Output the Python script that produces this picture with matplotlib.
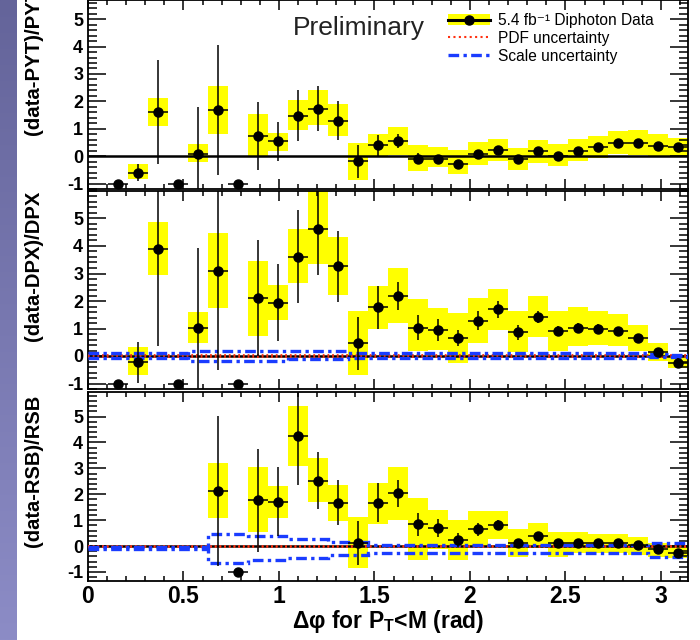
import numpy as np
import matplotlib
matplotlib.use('Agg')
import matplotlib.pyplot as plt
from matplotlib.lines import Line2D
from matplotlib.patches import Rectangle
from matplotlib.ticker import MultipleLocator
from matplotlib.colors import LinearSegmentedColormap

plt.rcParams['font.family'] = ['Liberation Sans', 'DejaVu Sans']
plt.rcParams['axes.unicode_minus'] = False

nan = np.nan

# 30 bins in delta phi, 0 .. pi
edges = np.linspace(0, np.pi, 31)
centers = 0.5 * (edges[:-1] + edges[1:])
bw = edges[1] - edges[0]

# (data-PYT)/PYT
pyt_val = [nan, -1, -0.6, 1.6, -1, 0.08, 1.69, -1, 0.74, 0.54, 1.47, 1.73, 1.3, -0.19, 0.4,
           0.54, -0.1, -0.1, -0.27, 0.06, 0.22, -0.12, 0.18, 0.01, 0.18, 0.33, 0.49, 0.49, 0.38, 0.33]
pyt_stat = [0, 0, 0.3, 1.9, 0, 1.7, 2.37, 0, 1.25, 0.7, 0.93, 0.82, 0.7, 0.6, 0.38,
            0.25, 0.2, 0.12, 0.1, 0.15, 0.15, 0.1, 0.1, 0.1, 0.1, 0.1, 0.1, 0.1, 0.1, 0.1]
pyt_lo = [nan, nan, -0.84, 1.1, nan, -0.2, 0.81, nan, -0.02, 0.19, 0.95, 1.13, 0.73, -0.88, 0.0,
          0.04, -0.54, -0.39, -0.66, -0.32, -0.17, -0.49, -0.24, -0.35, -0.18, -0.06, 0.07, 0.04, -0.02, 0.0]
pyt_hi = [nan, nan, -0.3, 2.13, nan, 0.44, 2.57, nan, 1.53, 0.84, 2.04, 2.41, 1.9, 0.47, 0.79,
          1.06, 0.39, 0.32, 0.22, 0.5, 0.61, 0.29, 0.58, 0.44, 0.63, 0.74, 0.91, 0.97, 0.79, 0.68]

# (data-DPX)/DPX
dpx_val = [nan, -1, -0.23, 3.88, -1, 1.03, 3.09, -1, 2.1, 1.93, 3.61, 4.62, 3.27, 0.46, 1.77,
           2.19, 1.03, 0.95, 0.65, 1.28, 1.7, 0.86, 1.42, 0.9, 1.03, 1.0, 0.9, 0.65, 0.13, -0.27]
dpx_stat = [0, 0, 0.74, 3.5, 0, 2.9, 3.6, 0, 2.1, 1.4, 1.7, 1.67, 1.29, 0.97, 0.77,
            0.5, 0.45, 0.39, 0.3, 0.35, 0.3, 0.26, 0.23, 0.18, 0.18, 0.17, 0.16, 0.15, 0.13, 0.18]
dpx_lo = [nan, nan, -0.69, 2.95, nan, 0.48, 1.73, nan, 0.74, 1.31, 2.64, 3.35, 2.22, -0.69, 1.0,
          1.21, 0.17, 0.22, -0.27, 0.48, 0.95, 0.16, 0.7, 0.17, 0.36, 0.4, 0.37, 0.18, -0.19, -0.45]
dpx_hi = [nan, nan, 0.32, 4.88, nan, 1.61, 4.46, nan, 3.45, 2.59, 4.62, 6.0, 4.32, 1.65, 2.55,
          3.2, 2.07, 1.73, 1.55, 2.12, 2.43, 1.65, 2.2, 1.65, 1.77, 1.65, 1.52, 1.12, 0.47, 0.04]
dpx_scale_hi = [0.12] * 5 + [0.17] * 8 + [0.1] * 15 + [0.07, 0.05]
dpx_scale_lo = [-0.08] * 5 + [-0.17] * 5 + [-0.12] * 3 + [-0.08] * 15 + [-0.05, -0.05]

# (data-RSB)/RSB
rsb_val = [nan] * 6 + [2.13, -1, 1.76, 1.72, 4.24, 2.53, 1.67, 0.1, 1.68,
                       2.04, 0.84, 0.7, 0.23, 0.64, 0.83, 0.1, 0.4, 0.1, 0.13, 0.1, 0.1, 0.04, -0.13, -0.26]
rsb_stat = [0] * 6 + [2.9, 0, 2.0, 1.35, 1.9, 1.1, 0.87, 0.85, 0.76,
                      0.53, 0.45, 0.35, 0.27, 0.26, 0.18, 0.14, 0.16, 0.12, 0.12, 0.12, 0.12, 0.12, 0.12, 0.12]
rsb_lo = [nan] * 6 + [1.1, nan, 0.55, 1.1, 3.1, 1.71, 0.98, -0.86, 0.87,
                      1.02, -0.52, -0.13, -0.52, -0.03, 0.26, -0.44, -0.09, -0.42, -0.28, -0.28, -0.28, -0.35, -0.42, -0.48]
rsb_hi = [nan] * 6 + [3.2, nan, 3.04, 2.31, 5.39, 3.42, 2.36, 1.14, 2.44,
                      3.04, 1.84, 1.4, 1.02, 1.35, 1.35, 0.64, 0.88, 0.55, 0.55, 0.47, 0.47, 0.36, 0.13, 0.04]
rsb_scale_hi = [-0.05] * 6 + [0.46, 0.46, 0.4, 0.4, 0.26, 0.26, 0.14, 0.14] + [0.04] * 14 + [0.13, 0.13]
rsb_scale_lo = [-0.1] * 6 + [-0.65, -0.65, -0.55, -0.55, -0.48, -0.48, -0.35, -0.35] + [-0.28] * 14 + [-0.42, -0.42]

xtick_labels = ['0', '0.5', '1', '1.5', '2', '2.5', '3']
legend_labels = ['5.4 fb⁻¹ Diphoton Data', 'PDF uncertainty', 'Scale uncertainty']

YELLOW = '#ffff00'
BLUE = '#1a3cff'
RED = '#ff3010'
BLUE_LS = (0, (3.2, 1.3, 1.0, 1.3))
RED_LS = (0, (1, 1.6))

fig = plt.figure(figsize=(7, 6.4), dpi=100)

# purple slide strip on the left
strip = fig.add_axes([0, 0, 17 / 700, 1])
cmap = LinearSegmentedColormap.from_list('strip', ['#64649a', '#8c8cc6'])
strip.imshow(np.linspace(0, 1, 256)[:, None], cmap=cmap, aspect='auto')
strip.axis('off')

L, W = 88 / 700, 600 / 700
ax_top = fig.add_axes([L, 451 / 640, W, 189 / 640])
ax_mid = fig.add_axes([L, 251 / 640, W, 198 / 640])
ax_bot = fig.add_axes([L, 59 / 640, W, 189 / 640])


def draw_panel(ax, val, stat, lo, hi, scale_hi=None, scale_lo=None):
    val, stat = np.array(val, float), np.array(stat, float)
    lo, hi = np.array(lo, float), np.array(hi, float)
    ax.bar(centers, hi - lo, bottom=lo, width=bw, color=YELLOW, lw=0, zorder=1)
    ax.axhline(0, color='black', lw=1.8, zorder=2)
    if scale_hi is not None:
        ax.stairs([0.02] * 30, edges, baseline=None, color=RED, lw=1.3, ls=RED_LS, zorder=3)
        ax.stairs([-0.02] * 30, edges, baseline=None, color=RED, lw=1.3, ls=RED_LS, zorder=3)
        ax.stairs(scale_hi, edges, baseline=None, color=BLUE, lw=2.4, ls=BLUE_LS, zorder=3)
        ax.stairs(scale_lo, edges, baseline=None, color=BLUE, lw=2.4, ls=BLUE_LS, zorder=3)
    ax.errorbar(centers, val, yerr=stat, xerr=bw / 2, fmt='o', color='black', ms=6.5,
                elinewidth=1.1, capsize=0, zorder=4)
    ax.set_xlim(0, np.pi)
    ax.xaxis.set_major_locator(MultipleLocator(0.5))
    ax.xaxis.set_minor_locator(MultipleLocator(0.1))
    ax.set_yticks(range(-1, 6))
    ax.yaxis.set_minor_locator(MultipleLocator(0.2))
    ax.tick_params(which='both', direction='in', top=True, right=True, width=1.1)
    ax.tick_params(axis='x', which='major', length=7)
    ax.tick_params(axis='x', which='minor', length=3.5)
    ax.tick_params(axis='y', which='major', length=13, pad=3.5)
    ax.tick_params(axis='y', which='minor', length=6.5)
    ax.tick_params(axis='y', labelsize=13)
    for lab in ax.get_yticklabels():
        lab.set_fontweight('bold')
    for sp in ax.spines.values():
        sp.set_linewidth(1.3)


draw_panel(ax_top, pyt_val, pyt_stat, pyt_lo, pyt_hi)
ax_top.set_ylim(-1.2, 5.7)
draw_panel(ax_mid, dpx_val, dpx_stat, dpx_lo, dpx_hi, dpx_scale_hi, dpx_scale_lo)
ax_mid.set_ylim(-1.2, 6.0)
draw_panel(ax_bot, rsb_val, rsb_stat, rsb_lo, rsb_hi, rsb_scale_hi, rsb_scale_lo)
ax_bot.set_ylim(-1.35, 5.95)

for ax in (ax_top, ax_mid):
    ax.tick_params(axis='x', labelbottom=False)

ax_bot.set_xticks(np.arange(0, 3.01, 0.5))
ax_bot.set_xticklabels(xtick_labels, fontsize=16.5, fontweight='bold')
ax_bot.tick_params(axis='x', pad=3)
ax_bot.set_xlabel('Δφ for P$_\\mathregular{T}$<M (rad)', fontsize=16.5, fontweight='bold', labelpad=0)

# y titles (top one runs off the figure like the slide crop)
fig.text(34 / 700, 1 - 135 / 640, '(data-PYT)/PYT', rotation=90, ha='center', va='bottom',
         fontsize=14.7, fontweight='bold')
fig.text(34 / 700, 1 - 266 / 640, '(data-DPX)/DPX', rotation=90, ha='center', va='center',
         fontsize=14.5, fontweight='bold')
fig.text(34 / 700, 1 - 471 / 640, '(data-RSB)/RSB', rotation=90, ha='center', va='center',
         fontsize=14.5, fontweight='bold')

ax_top.text(0.452, 0.852, 'Preliminary', transform=ax_top.transAxes, ha='center', va='center',
            fontsize=19, color='#222222')

# legend, laid out by hand in the top pad
tr = ax_top.transAxes
kx0, kx1, tx = 0.6, 0.67, 0.683
rows = [1 - 19.5 / 189, 1 - 37 / 189, 1 - 54.5 / 189]
ax_top.add_patch(Rectangle((kx0, rows[0] - 0.03), kx1 - kx0, 0.06, transform=tr,
                           facecolor=YELLOW, edgecolor='none', zorder=5))
ax_top.add_line(Line2D([kx0, kx1], [rows[0]] * 2, transform=tr, color='black', lw=2.2, zorder=6))
ax_top.add_line(Line2D([(kx0 + kx1) / 2], [rows[0]], transform=tr, color='black', marker='o',
                       ms=6.5, zorder=7))
ax_top.add_line(Line2D([kx0, kx1], [rows[1]] * 2, transform=tr, color=RED, lw=1.5, ls=RED_LS, zorder=6))
ax_top.add_line(Line2D([kx0, kx1], [rows[2]] * 2, transform=tr, color=BLUE, lw=2.4, ls=BLUE_LS, zorder=6))
for lab, yy in zip(legend_labels, rows):
    ax_top.text(tx, yy, lab, transform=tr, ha='left', va='center_baseline', fontsize=11.2, zorder=7)

fig.savefig('out.png', dpi=100)
